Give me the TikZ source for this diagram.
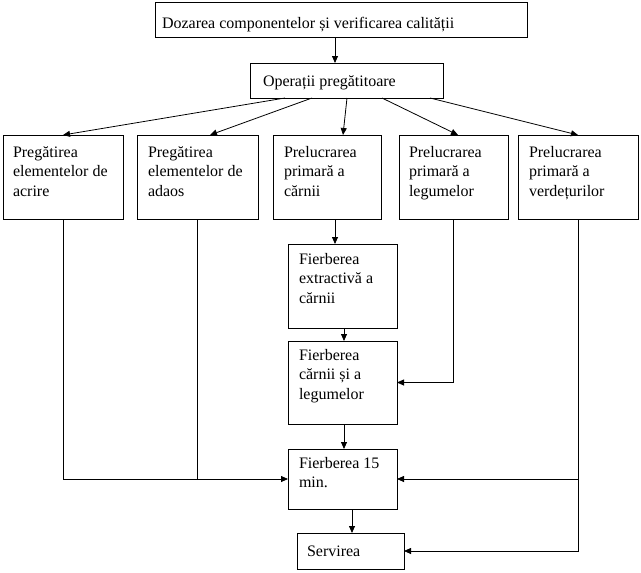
\documentclass[tikz,border=0pt]{standalone}
\usepackage{fontspec}
\setmainfont{Liberation Serif}
\usetikzlibrary{arrows.meta}
\newcommand{\boxtxt}[5]{\parbox[c][#2pt][t]{#1pt}{\raggedright\leftskip=#4pt\relax\vspace*{#3pt}\strut #5}}
\tikzset{
  box/.style={draw, line width=0.9pt, inner sep=0pt, outer sep=0pt, anchor=north west,
    font=\fontsize{16}{19.5}\selectfont},
  arr/.style={-{Triangle[length=7pt,width=6pt]}, line width=0.8pt},
  ln/.style={line width=0.8pt}
}
\begin{document}
\begin{tikzpicture}[x=1pt,y=-1pt]
\useasboundingbox (0,0) rectangle (641,573);
% nodes
\node[box] (top) at (155,2)   {\boxtxt{372}{35}{12.35}{7}{Dozarea componentelor și verificarea calității}};
\node[box] (op)  at (250,63)  {\boxtxt{193}{35}{9.35}{13}{Operații pregătitoare}};
\node[box] (b1)  at (3,135)   {\boxtxt{120}{84}{8.35}{10}{Pregătirea\\elementelor de\\acrire}};
\node[box] (b2)  at (137,135) {\boxtxt{121}{84}{8.35}{11}{Pregătirea\\elementelor de\\adaos}};
\node[box] (b3)  at (273,135) {\boxtxt{108}{84}{8.35}{11}{Prelucrarea\\primară a\\cărnii}};
\node[box] (b4)  at (399,135) {\boxtxt{109}{84}{8.35}{10}{Prelucrarea\\primară a\\legumelor}};
\node[box] (b5)  at (518,135) {\boxtxt{120}{84}{8.35}{11}{Prelucrarea\\primară a\\verdețurilor}};
\node[box] (fe)  at (288,244) {\boxtxt{109}{84}{6.35}{11}{Fierberea\\extractivă a\\cărnii}};
\node[box] (fc)  at (288,341) {\boxtxt{109}{83}{5.35}{11}{Fierberea\\cărnii și a\\legumelor}};
\node[box] (f15) at (288,449) {\boxtxt{109}{60}{5.35}{11}{Fierberea 15\\min.}};
\node[box] (sv)  at (297,533) {\boxtxt{107}{36}{9.85}{10}{Servirea}};
% connectors
\draw[arr] (top.south -| 335,0) -- (op.north -| 335,0);
\draw[arr] ([xshift=35pt]op.south west) -- (b1.north);
\draw[arr] ([xshift=62pt]op.south west) -- ([xshift=73pt]b2.north west);
\draw[arr] ([xshift=97pt]op.south west) -- ([xshift=70pt]b3.north west);
\draw[arr] ([xshift=132pt]op.south west) -- ([xshift=59pt]b4.north west);
\draw[arr] ([xshift=180pt]op.south west) -- (b5.north);
\draw[arr] ([xshift=62pt]b3.south west) -- (fe.north -| 335,0);
\draw[arr] (fe.south -| 344,0) -- (fc.north -| 344,0);
\draw[arr] (b4.south) |- (fc.east);
\draw[arr] (fc.south -| 344,0) -- (f15.north -| 344,0);
\draw[arr] (b1.south) |- (f15.west);
\draw[ln]  (b2.south) -- (b2.south |- f15.west);
\draw[arr] (b5.south) |- (sv.east);
\draw[arr] (b5.south |- f15.east) -- (f15.east);
\draw[arr] (f15.south -| 352,0) -- (sv.north -| 352,0);
\end{tikzpicture}
\end{document}
